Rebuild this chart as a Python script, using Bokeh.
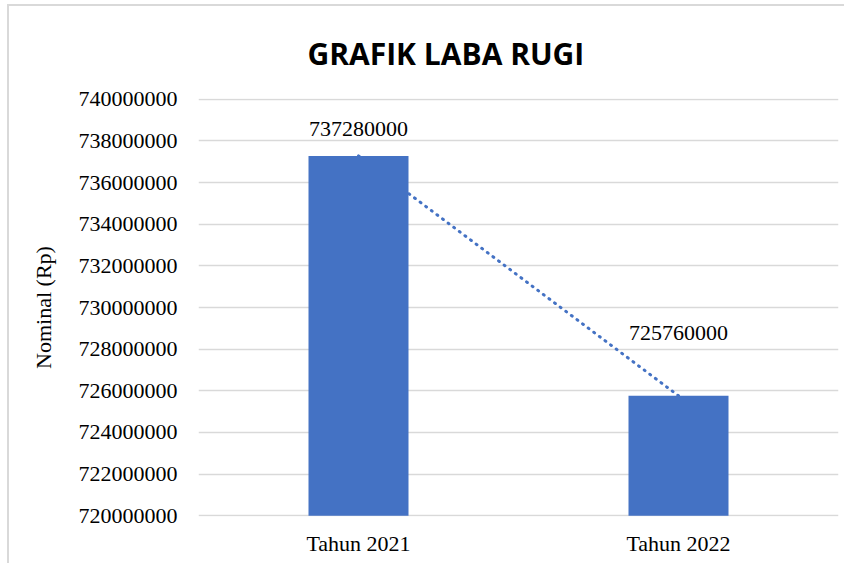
from bokeh.plotting import figure
from bokeh.models import ColumnDataSource, Range1d, FixedTicker, Title
from bokeh.core.properties import value
from bokeh.embed import file_html
from bokeh.resources import INLINE

categories = ["Tahun 2021", "Tahun 2022"]
nominal = [737280000, 725760000]
y_ticks = list(range(720000000, 740000001, 2000000))

BLUE = "#4472C4"
SERIF = "Liberation Serif"

src = ColumnDataSource(dict(cat=categories, val=nominal,
                            lab=[str(v) for v in nominal]))

p = figure(x_range=categories, y_range=Range1d(719960000, 740040000),
           width=837, height=559, output_backend="svg", toolbar_location=None,
           min_border_left=189, min_border_right=8, min_border_top=92,
           min_border_bottom=49,
           styles={"border-left": "2px solid #d9d9d9",
                   "border-top": "2px solid #d9d9d9",
                   "margin-left": "7px", "margin-top": "4px"})

p.line(x="cat", y="val", source=src, line_color=BLUE, line_width=3,
       line_dash="1 6", line_cap="round")
p.vbar(x="cat", top="val", bottom=720000000, width=0.3125, source=src,
       fill_color=BLUE, line_color=None)

lab1 = ColumnDataSource(dict(cat=[categories[0]], val=[nominal[0]], lab=[str(nominal[0])]))
lab2 = ColumnDataSource(dict(cat=[categories[1]], val=[nominal[1]], lab=[str(nominal[1])]))
p.text(x="cat", y="val", text="lab", source=lab1, text_align="center",
       text_baseline="middle", y_offset=-27, text_font=value(SERIF),
       text_font_size="22px", text_color="#000000")
p.text(x="cat", y="val", text="lab", source=lab2, text_align="center",
       text_baseline="middle", y_offset=-63, text_font=value(SERIF),
       text_font_size="22px", text_color="#000000")

p.outline_line_color = None
p.xgrid.grid_line_color = None
p.ygrid.grid_line_color = "#d9d9d9"
p.ygrid.grid_line_width = 1.5

p.yaxis.ticker = FixedTicker(ticks=y_ticks)
p.yaxis.formatter.use_scientific = False
p.yaxis.axis_line_color = None
p.yaxis.major_tick_line_color = None
p.yaxis.minor_tick_line_color = None
p.yaxis.major_label_text_font = SERIF
p.yaxis.major_label_text_font_size = "22px"
p.yaxis.major_label_text_color = "#000000"
p.yaxis.major_label_standoff = 15
p.yaxis.axis_label = "Nominal (Rp)"
p.yaxis.axis_label_text_font = SERIF
p.yaxis.axis_label_text_font_size = "22px"
p.yaxis.axis_label_text_font_style = "normal"
p.yaxis.axis_label_text_color = "#000000"
p.yaxis.axis_label_standoff = 20

p.xaxis.axis_line_color = None
p.xaxis.major_tick_line_color = None
p.xaxis.major_label_text_font = SERIF
p.xaxis.major_label_text_font_size = "22px"
p.xaxis.major_label_text_color = "#000000"
p.xaxis.major_label_standoff = 8

p.title = Title(text="GRAFIK LABA RUGI", align="left", offset=109,
                text_font="Open Sans", text_font_size="30px",
                text_font_style="bold", text_color="#000000",
                standoff=49)

open("out.html", "w").write(file_html(p, INLINE))
